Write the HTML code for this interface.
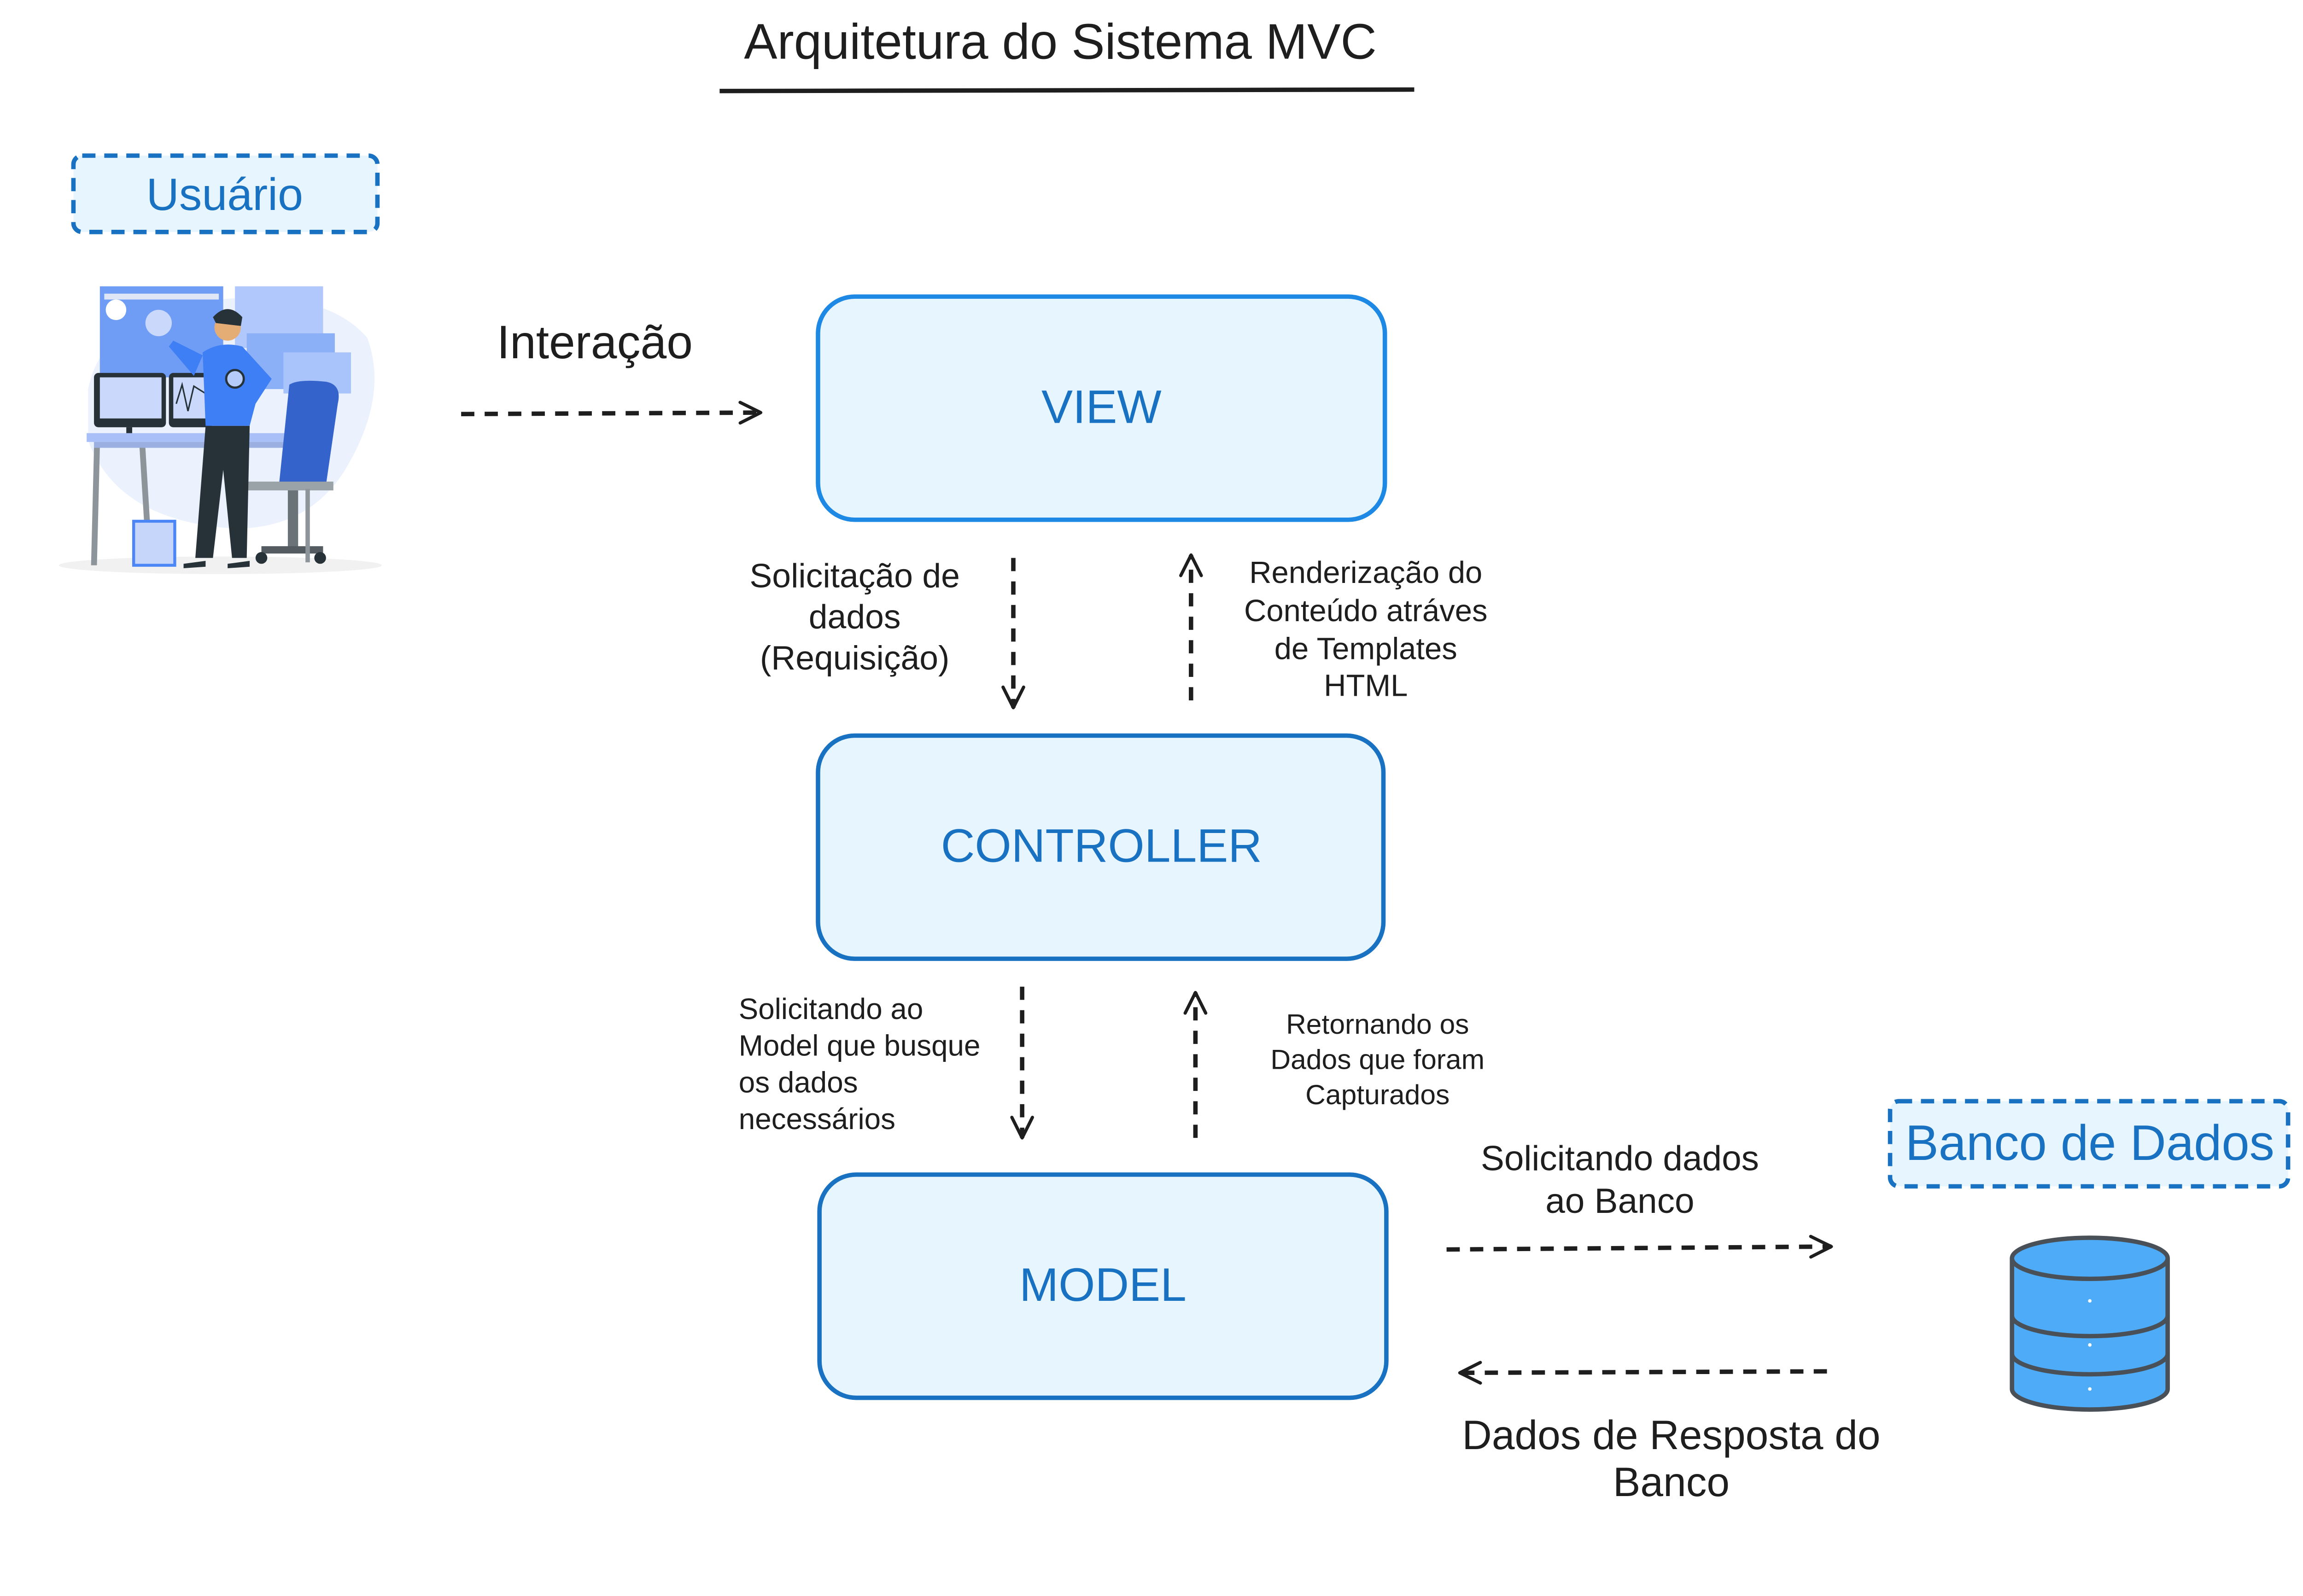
<!DOCTYPE html>
<html><head><meta charset="utf-8"><style>
html,body{margin:0;padding:0;background:#fff;overflow:hidden;}
svg{display:block;}
text{font-family:"Liberation Sans",sans-serif;}
</style></head><body>
<svg width="5245" height="3466" viewBox="0 0 1645 1087" preserveAspectRatio="none" xmlns="http://www.w3.org/2000/svg">
<rect width="1700" height="1100" fill="#fff"/>
<defs>
<marker id="ah" viewBox="0 0 20 20" refX="17" refY="10" markerWidth="20" markerHeight="20" markerUnits="userSpaceOnUse" orient="auto">
<path d="M3 3 L17 10 L3 17" fill="none" stroke="#1e1e1e" stroke-width="2.2" stroke-linecap="round" stroke-linejoin="round"/>
</marker>
</defs>
<text x="722" y="40" font-size="34" text-anchor="middle" fill="#1e1e1e">Arquitetura do Sistema MVC</text>
<line x1="490" y1="62" x2="963" y2="61" stroke="#1e1e1e" stroke-width="3"/>

<rect x="50" y="106" width="207" height="52" rx="6" fill="#e7f5ff" stroke="#1971c2" stroke-width="3" stroke-dasharray="9 6"/>
<text x="153" y="143" font-size="31" text-anchor="middle" fill="#1971c2">Usuário</text>

<g>
<ellipse cx="150" cy="385" rx="110" ry="6" fill="#f1f1f1"/>
<path d="M60 265 Q70 215 140 205 Q220 195 250 230 Q265 270 235 320 Q210 360 160 360 Q80 355 60 300 Z" fill="#ebf1fd"/>
<rect x="68" y="195" width="84" height="62" fill="#6f9cf5"/>
<rect x="71" y="200" width="78" height="4" fill="#dfe7f7"/>
<circle cx="79" cy="211" r="7" fill="#fff"/>
<circle cx="108" cy="220" r="9" fill="#c9d8fb"/>
<rect x="160" y="195" width="60" height="42" fill="#b0c8fb"/>
<rect x="168" y="227" width="60" height="38" fill="#8cb0f8"/>
<rect x="193" y="240" width="46" height="28" fill="#a9c3fb"/>
<rect x="64" y="254" width="49" height="37" rx="3" fill="#263238"/>
<rect x="68" y="257" width="42" height="28" fill="#c9d8fb"/>
<rect x="86" y="291" width="4" height="8" fill="#263238"/>
<rect x="115" y="254" width="30" height="37" rx="3" fill="#263238"/>
<rect x="118" y="257" width="25" height="28" fill="#c9d8fb"/>
<polyline points="120,275 124,262 128,280 132,263 140,268" fill="none" stroke="#263238" stroke-width="1"/>
<rect x="59" y="295" width="150" height="6" fill="#a8c0f7"/>
<rect x="64" y="301" width="145" height="4" fill="#9bb0e0"/>
<polygon points="64,305 68,305 66,385 62,385" fill="#8e959a"/>
<polygon points="95,305 99,305 103,370 99,370" fill="#8e959a"/>
<rect x="91" y="355" width="28" height="30" fill="#c6d6fb" stroke="#4b86f7" stroke-width="2"/>
<path d="M197 262 Q203 258 222 260 Q233 262 230 275 L222 330 L190 330 Z" fill="#3563cc"/>
<rect x="165" y="328" width="62" height="6" fill="#9aa3a8"/>
<rect x="196" y="334" width="7" height="40" fill="#6a7377"/>
<rect x="178" y="372" width="42" height="5" fill="#545c61"/>
<circle cx="178" cy="380" r="4" fill="#263238"/><circle cx="218" cy="380" r="4" fill="#263238"/>
<rect x="208" y="333" width="3" height="50" fill="#8e959a"/>
<path d="M140 290 L170 290 L168 380 L158 380 L152 320 L145 380 L133 380 Z" fill="#263238"/>
<path d="M138 240 Q150 232 165 236 L185 258 L174 275 L170 290 L140 290 Z" fill="#3f7ff5"/>
<path d="M138 242 L118 232 L115 236 L132 256 Z" fill="#3f7ff5"/>
<circle cx="155" cy="223" r="9" fill="#e4ad76"/>
<path d="M145 216 Q155 205 165 216 L164 222 L147 220 Z" fill="#263238"/>
<circle cx="160" cy="258" r="6" fill="#b5ccfb" stroke="#263238" stroke-width="1.5"/>
<path d="M125 384 L140 382 L140 386 L125 387 Z M155 384 L170 382 L170 386 L155 387 Z" fill="#263238"/>
</g>

<text x="405" y="244" font-size="32" text-anchor="middle" fill="#1e1e1e">Interação</text>
<line x1="314" y1="282" x2="518" y2="281" stroke="#1e1e1e" stroke-width="3" stroke-dasharray="9 7" marker-end="url(#ah)"/>

<rect x="557" y="202" width="386" height="152" rx="25" fill="#e7f5ff" stroke="#1e88e5" stroke-width="3"/>
<text x="750" y="288" font-size="32" text-anchor="middle" fill="#1971c2">VIEW</text>
<rect x="557" y="501" width="385" height="152" rx="25" fill="#e7f5ff" stroke="#1971c2" stroke-width="3"/>
<text x="750" y="587" font-size="32" text-anchor="middle" fill="#1971c2">CONTROLLER</text>
<rect x="558" y="800" width="386" height="152" rx="25" fill="#e7f5ff" stroke="#1971c2" stroke-width="3"/>
<text x="751" y="886" font-size="32" text-anchor="middle" fill="#1971c2">MODEL</text>

<line x1="690" y1="380" x2="690" y2="482" stroke="#1e1e1e" stroke-width="3" stroke-dasharray="9 7" marker-end="url(#ah)"/>
<line x1="811" y1="477" x2="811" y2="378" stroke="#1e1e1e" stroke-width="3" stroke-dasharray="9 7" marker-end="url(#ah)"/>
<g font-size="23" fill="#1e1e1e" text-anchor="middle">
<text x="582" y="400">Solicitação de</text>
<text x="582" y="428">dados</text>
<text x="582" y="456">(Requisição)</text>
</g>
<g font-size="21" fill="#1e1e1e" text-anchor="middle">
<text x="930" y="397">Renderização do</text>
<text x="930" y="423">Conteúdo atráves</text>
<text x="930" y="449">de Templates</text>
<text x="930" y="474">HTML</text>
</g>

<line x1="696" y1="672" x2="696" y2="775" stroke="#1e1e1e" stroke-width="3" stroke-dasharray="9 7" marker-end="url(#ah)"/>
<line x1="814" y1="775" x2="814" y2="676" stroke="#1e1e1e" stroke-width="3" stroke-dasharray="9 7" marker-end="url(#ah)"/>
<g font-size="20" fill="#1e1e1e">
<text x="503" y="694">Solicitando ao</text>
<text x="503" y="719">Model que busque</text>
<text x="503" y="744">os dados</text>
<text x="503" y="769">necessários</text>
</g>
<g font-size="19" fill="#1e1e1e" text-anchor="middle">
<text x="938" y="704">Retornando os</text>
<text x="938" y="728">Dados que foram</text>
<text x="938" y="752">Capturados</text>
</g>

<g font-size="24" fill="#1e1e1e" text-anchor="middle">
<text x="1103" y="797">Solicitando dados</text>
<text x="1103" y="826">ao Banco</text>
</g>
<line x1="985" y1="851" x2="1247" y2="849" stroke="#1e1e1e" stroke-width="3" stroke-dasharray="9 7" marker-end="url(#ah)"/>
<line x1="1244" y1="934" x2="994" y2="935" stroke="#1e1e1e" stroke-width="3" stroke-dasharray="9 7" marker-end="url(#ah)"/>
<g font-size="28" fill="#1e1e1e" text-anchor="middle">
<text x="1138" y="987">Dados de Resposta do</text>
<text x="1138" y="1019">Banco</text>
</g>

<rect x="1287" y="750" width="271" height="58" rx="6" fill="#e7f5ff" stroke="#1971c2" stroke-width="3" stroke-dasharray="9 6"/>
<text x="1423" y="790" font-size="34" text-anchor="middle" fill="#1971c2">Banco de Dados</text>
<g stroke="#495057" stroke-width="3" fill="#4dabf7">
<path d="M1370 857 L1370 946 A53 14 0 0 0 1476 946 L1476 857"/>
<ellipse cx="1423" cy="857" rx="53" ry="14"/>
<path d="M1370 896 A53 14 0 0 0 1476 896" fill="none"/>
<path d="M1370 922 A53 14 0 0 0 1476 922" fill="none"/>
</g>
<circle cx="1423" cy="886" r="1.2" fill="#fff"/>
<circle cx="1423" cy="916" r="1.2" fill="#fff"/>
<circle cx="1423" cy="946" r="1.2" fill="#fff"/>
</svg>
</body></html>
